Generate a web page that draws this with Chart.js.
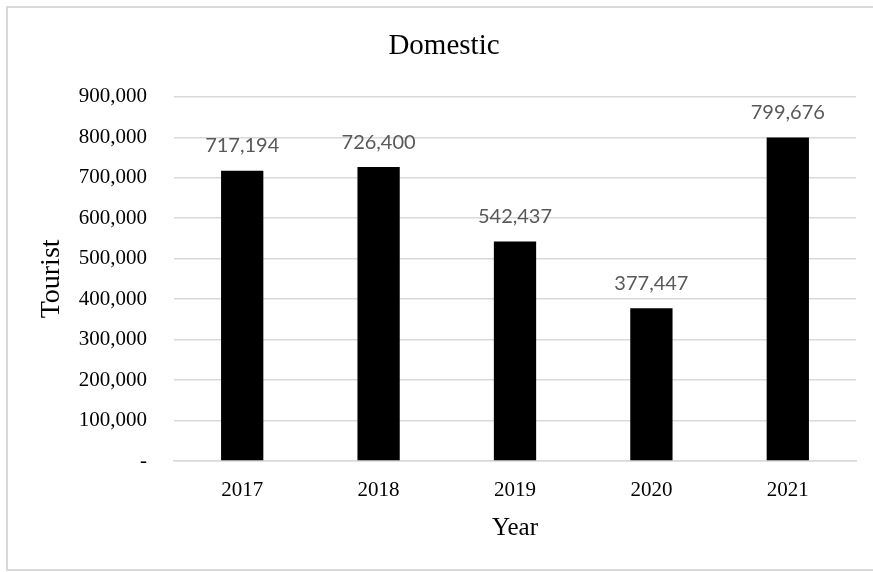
<!DOCTYPE html>
<html>
<head>
<meta charset="utf-8">
<script src="https://cdn.jsdelivr.net/npm/chart.js@4.4.0/dist/chart.umd.min.js"></script>
<style>
  html, body { margin: 0; padding: 0; background: #fff; overflow: hidden; }
</style>
</head>
<body>
<canvas id="touristChart" width="873" height="572"></canvas>
<script>
// datos
const years = ["2017", "2018", "2019", "2020", "2021"];
const domesticTourists = [717194, 726400, 542437, 377447, 799676];
const yTicks = [0, 100000, 200000, 300000, 400000, 500000, 600000, 700000, 800000, 900000];

const fmt = v => v.toLocaleString("en-US");
const serif = "'Liberation Serif', 'Times New Roman', serif";

// marco gris (izquierda, arriba, abajo)
const chartFrame = {
    id: "chartFrame",
    beforeDraw(chart) {
        const ctx = chart.ctx;
        ctx.save();
        ctx.strokeStyle = "#d9d9d9";
        ctx.lineWidth = 2;
        ctx.beginPath();
        ctx.moveTo(chart.width, 7);
        ctx.lineTo(7, 7);
        ctx.lineTo(7, 570);
        ctx.lineTo(chart.width, 570);
        ctx.stroke();
        ctx.restore();
    }
};

// etiquetas de valor encima de cada barra
const barLabels = {
    id: "barLabels",
    afterDatasetsDraw(chart) {
        const ctx = chart.ctx;
        const meta = chart.getDatasetMeta(0);
        ctx.save();
        ctx.font = "20px Lato";
        ctx.fillStyle = "#595959";
        ctx.textAlign = "center";
        ctx.textBaseline = "middle";
        meta.data.forEach((bar, i) => {
            ctx.fillText(fmt(chart.data.datasets[0].data[i]), bar.x, bar.y - 25);
        });
        ctx.restore();
    }
};

const ctx = document.getElementById("touristChart").getContext("2d");

const chart = new Chart(ctx, {
    type: "bar",
    data: {
        labels: years,
        datasets: [{
            label: "Domestic",
            data: domesticTourists,
            backgroundColor: "#000000",
            borderWidth: 0,
            barPercentage: 0.31,
            categoryPercentage: 1
        }]
    },
    options: {
        responsive: false,
        animation: false,
        layout: {
            padding: { top: 7, left: 32, right: 17, bottom: 29 }
        },
        plugins: {
            legend: { display: false },
            tooltip: { enabled: false },
            title: {
                display: true,
                text: "Domestic",
                color: "#000",
                font: { family: serif, size: 29, weight: "normal", lineHeight: 1.2 },
                padding: { top: 22, bottom: 33 }
            }
        },
        scales: {
            x: {
                afterFit(scale) {
                    scale.height = 82;
                },
                grid: { display: false, drawTicks: false },
                border: { display: true, color: "#d9d9d9", width: 1.5 },
                ticks: {
                    color: "#000",
                    padding: 17,
                    font: { family: serif, size: 21 }
                },
                title: {
                    display: true,
                    text: "Year",
                    color: "#000",
                    font: { family: serif, size: 25, lineHeight: 1.2 },
                    padding: { top: 0, bottom: 0 }
                }
            },
            y: {
                min: 0,
                max: 900000,
                afterBuildTicks(scale) {
                    scale.ticks = yTicks.map(v => ({ value: v }));
                },
                afterFit(scale) {
                    scale.width = 142;
                },
                grid: { color: "#d9d9d9", lineWidth: 1.5, drawTicks: false },
                border: { display: false },
                ticks: {
                    color: "#000",
                    padding: 27,
                    font: { family: serif, size: 21 },
                    callback: v => v === 0 ? "-" : fmt(v)
                },
                title: {
                    display: true,
                    text: "Tourist",
                    color: "#000",
                    font: { family: serif, size: 28, lineHeight: 1.2 },
                    padding: { top: 3, bottom: 10 }
                }
            }
        }
    },
    plugins: [chartFrame, barLabels]
});
</script>
</body>
</html>
